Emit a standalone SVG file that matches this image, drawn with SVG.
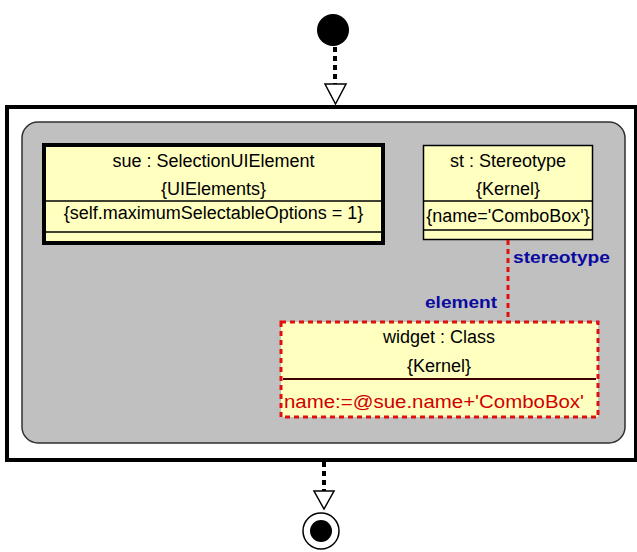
<svg xmlns="http://www.w3.org/2000/svg" width="637" height="552" viewBox="0 0 637 552">
<style>
text{font-family:"Liberation Sans",Arial,sans-serif;font-size:18px;fill:#000;text-anchor:middle}
.box{fill:#ffffc0;stroke:#000}
.flow{stroke:#000;stroke-width:4;stroke-dasharray:5 4;fill:none}
.head{fill:#fff;stroke:#000;stroke-width:1.5}
.lbl{font-weight:bold;fill:#0a0aa0;font-size:17px;text-anchor:start}
.red{stroke:#e01010;stroke-width:3;stroke-dasharray:5 4;fill:none}
</style>
<rect width="637" height="552" fill="#fff"/>
<g id="initial"><circle cx="333" cy="30" r="16" fill="#000"/></g>
<g id="region">
<rect x="7" y="107" width="629" height="353" fill="#fff" stroke="#000" stroke-width="4"/>
<rect x="22" y="122" width="603" height="321" rx="16" fill="#c0c0c0" stroke="#303030" stroke-width="1.5"/>
</g>
<g id="sue">
<rect class="box" x="44" y="145" width="339" height="98" stroke-width="4"/>
<line x1="46" y1="201" x2="381" y2="201" stroke="#000" stroke-width="1.5"/>
<line x1="46" y1="232" x2="381" y2="232" stroke="#000" stroke-width="1.5"/>
<text x="213.5" y="167">sue : SelectionUIElement</text>
<text x="213.5" y="195">{UIElements}</text>
<text x="213.5" y="219">{self.maximumSelectableOptions = 1}</text>
</g>
<g id="st">
<rect class="box" x="423.5" y="145.5" width="169" height="94" stroke-width="1.5"/>
<line x1="423.5" y1="201" x2="592.5" y2="201" stroke="#000" stroke-width="1.5"/>
<line x1="423.5" y1="230" x2="592.5" y2="230" stroke="#000" stroke-width="1.5"/>
<text x="508" y="167">st : Stereotype</text>
<text x="508" y="195">{Kernel}</text>
<text x="508" y="222">{name='ComboBox'}</text>
</g>
<g id="widget">
<rect x="281" y="322" width="317" height="95" fill="#ffffc0"/>
<rect class="red" x="281" y="322" width="317" height="95"/>
<line x1="283" y1="379" x2="596" y2="379" stroke="#400000" stroke-width="2"/>
<text x="439" y="343">widget : Class</text>
<text x="439" y="372">{Kernel}</text>
<text x="434" y="408" fill="#d00000" textLength="300" lengthAdjust="spacingAndGlyphs" style="fill:#d00000">name:=@sue.name+'ComboBox'</text>
</g>
<g id="final">
<circle cx="321" cy="531" r="18" fill="#fff" stroke="#000" stroke-width="1.5"/>
<circle cx="321" cy="531" r="11" fill="#000"/>
</g>
<g id="connectors">
<line class="flow" x1="335" y1="47" x2="335" y2="84"/>
<polygon class="head" points="325,84 346,84 335.5,104"/>
<line class="flow" x1="324" y1="462" x2="324" y2="491"/>
<polygon class="head" points="314,491 334,491 324,509"/>
<line class="red" x1="508" y1="240" x2="508" y2="322"/>
<text class="lbl" x="513" y="263" textLength="97" lengthAdjust="spacingAndGlyphs">stereotype</text>
<text class="lbl" x="425" y="308" textLength="72" lengthAdjust="spacingAndGlyphs">element</text>
</g>
</svg>
